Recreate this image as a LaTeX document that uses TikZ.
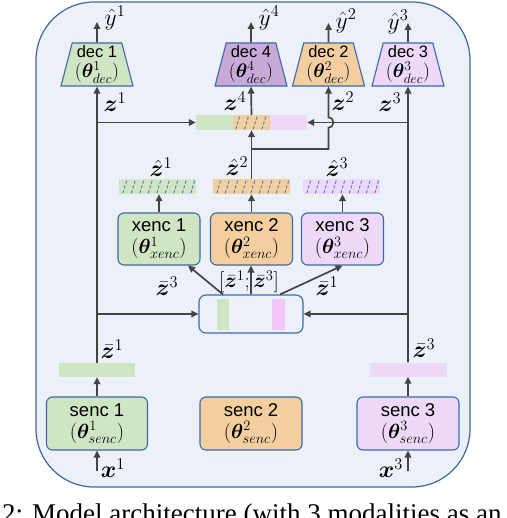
\RequirePackage{fix-cm}
\documentclass[tikz,border=0pt]{standalone}
\usepackage{fontspec}
\usepackage{amsmath}
\usepackage{bm}
\usetikzlibrary{shapes.geometric,arrows.meta}
\newfontfamily\lsans{Liberation Sans}
\newfontfamily\lserif{Liberation Serif}
\definecolor{bgfill}{HTML}{EBF0F9}
\definecolor{bgdraw}{HTML}{41659E}
\definecolor{cgreen}{HTML}{CFE5C3}
\definecolor{corange}{HTML}{F3CFA0}
\definecolor{cpurple}{HTML}{C9A9D8}
\definecolor{clilac}{HTML}{EDD9F7}
\definecolor{cpink}{HTML}{F2C6F6}
\definecolor{boxdraw}{HTML}{3F68A8}
\definecolor{conncol}{HTML}{444444}
\definecolor{hatchc}{HTML}{4A78C8}
\newcommand\mname[1]{{\lsans\fontsize{18.5}{20}\selectfont #1}}
\newcommand\dname[1]{{\lsans\fontsize{16.5}{18}\selectfont #1}}
\begin{document}
\begin{tikzpicture}[x=1pt,y=-1pt,
  modbox/.style={rectangle, rounded corners=6pt, draw=boxdraw, line width=1.1pt,
    minimum width=82pt, minimum height=52pt, align=center, inner sep=0pt,
    font=\fontsize{20.5}{22}\selectfont},
  decbox/.style={trapezium, trapezium left angle=75, trapezium right angle=75,
    trapezium stretches=true, draw=boxdraw, line width=1.1pt,
    minimum width=72pt, minimum height=43pt, align=center, inner sep=0pt,
    font=\fontsize{19.5}{19.5}\selectfont},
  barbox/.style={rectangle, minimum height=15pt, inner sep=0pt, draw=none},
  conn/.style={draw=conncol, line width=1.7pt},
  arr/.style={conn, -{Triangle[length=7pt,width=6.5pt]}},
  lab/.style={inner sep=0pt, font=\fontsize{23.5}{24}\selectfont},
  hatch/.style={draw=hatchc, line width=0.9pt, dash pattern=on 3pt off 2pt}
]
\useasboundingbox (0,0) rectangle (506,518);
% frame
\draw[fill=bgfill, draw=bgdraw, line width=1.2pt, rounded corners=58pt] (36,2) rectangle (470,487);

% decoders
\node[decbox, fill=cgreen]  (dec1) at (97,64.5)  {\dname{dec 1}\\$(\bm\theta^1_{dec})$};
\node[decbox, fill=cpurple] (dec4) at (251,64.5) {\dname{dec 4}\\$(\bm\theta^4_{dec})$};
\node[decbox, fill=corange] (dec2) at (328.5,64.5) {\dname{dec 2}\\$(\bm\theta^2_{dec})$};
\node[decbox, fill=clilac]  (dec3) at (408,64.5) {\dname{dec 3}\\$(\bm\theta^3_{dec})$};

% outputs
\coordinate (o1) at (97,22);
\coordinate (o4) at (251,22);
\coordinate (o2) at (328.5,23);
\coordinate (o3) at (408,23);
\draw[arr] (dec1.north) -- (o1);
\draw[arr] (dec4.north) -- (o4);
\draw[arr] (dec2.north) -- (o2);
\draw[arr] (dec3.north) -- (o3);
\node[lab] (ly1) at (115,18) {$\hat{y}^1$};
\node[lab] (ly4) at (269,18) {$\hat{y}^4$};
\node[lab] (ly2) at (346,21) {$\hat{y}^2$};
\node[lab] (ly3) at (398,22) {$\hat{y}^3$};

% z4 bar
\node[barbox, fill=cgreen,  minimum width=37pt] (z4a) at (214.5,122.5) {};
\node[barbox, fill=corange, minimum width=37pt] (z4b) at (251.5,122.5) {};
\node[barbox, fill=clilac,  minimum width=37pt] (z4c) at (288.5,122.5) {};
\foreach \i in {0,...,3}
  \draw[hatch] ([xshift={(3+\i*8.7)*1pt}, yshift=1pt]z4b.south west) -- ++(4,-13);

% z-hat bars
\node[barbox, fill=cgreen,  minimum width=77pt] (zh1) at (157.5,186.5) {};
\node[barbox, fill=corange, minimum width=77pt] (zh2) at (251.5,186.5) {};
\node[barbox, fill=clilac,  minimum width=77pt] (zh3) at (341.5,186.5) {};
\foreach \b in {zh1,zh2,zh3}
  \foreach \i in {0,...,8}
    \draw[hatch] ([xshift={(4+\i*8.5)*1pt}, yshift=1pt]\b.south west) -- ++(4,-13);
\node[lab] (lzh1) at (161,167) {$\hat{\bm z}^1$};
\node[lab] (lzh2) at (237,166) {$\hat{\bm z}^2$};
\node[lab] (lzh3) at (337,167) {$\hat{\bm z}^3$};

% cross encoders
\node[modbox, fill=cgreen]  (xe1) at (159,239)   {\mname{xenc 1}\\$(\bm\theta^1_{xenc})$};
\node[modbox, fill=corange] (xe2) at (251.5,239) {\mname{xenc 2}\\$(\bm\theta^2_{xenc})$};
\node[modbox, fill=clilac]  (xe3) at (342.5,239) {\mname{xenc 3}\\$(\bm\theta^3_{xenc})$};
\draw[arr] (xe1.north) -- (xe1.north |- zh1.south);
\draw[arr] (xe2.north) -- (xe2.north |- zh2.south);
\draw[arr] (xe3.north) -- (xe3.north |- zh3.south);

% combined box
\node[rectangle, rounded corners=7pt, draw=boxdraw, line width=1.1pt, fill=bgfill,
  minimum width=104pt, minimum height=38pt, inner sep=0pt] (comb) at (251,314) {};
\node[barbox, fill=cgreen, minimum width=12pt, minimum height=31pt] (cg) at (223,314.5) {};
\node[barbox, fill=cpink,  minimum width=13pt, minimum height=31pt] (cp) at (278.5,314.5) {};
\draw[arr] ([xshift=-28pt]comb.north) -- ([xshift=29pt]xe1.south);
\draw[arr] (comb.north) -- (comb.north |- xe2.south);
\draw[arr] ([xshift=29pt]comb.north) -- (xe3.south);
\node[lab] (lc1) at (167,286) {$\bar{\bm z}^3$};
\node[lab, font=\fontsize{21}{22}\selectfont] (lc2) at (249,282) {$[\bar{\bm z}^1;\bar{\bm z}^3]$};
\node[lab] (lc3) at (327,286) {$\bar{\bm z}^1$};

% single encoders
\node[modbox, fill=cgreen,  minimum width=101pt, minimum height=53pt] (se1) at (97,423.5)  {\mname{senc 1}\\$(\bm\theta^1_{senc})$};
\node[modbox, fill=corange, minimum width=102pt, minimum height=53pt] (se2) at (251,423.5) {\mname{senc 2}\\$(\bm\theta^2_{senc})$};
\node[modbox, fill=clilac,  minimum width=102pt, minimum height=53pt] (se3) at (408,423.5) {\mname{senc 3}\\$(\bm\theta^3_{senc})$};

% z-bar bars
\node[barbox, fill=cgreen, minimum width=76pt, minimum height=14pt] (zb1) at (97,370) {};
\node[barbox, fill=clilac, minimum width=77pt, minimum height=14pt] (zb3) at (408,369.5) {};
\node[lab] (lzb1) at (112,349) {$\bar{\bm z}^1$};
\node[lab] (lzb3) at (424,348) {$\bar{\bm z}^3$};

% inputs
\coordinate (x1) at (97,471);
\coordinate (x3) at (408,471);
\draw[arr] (x1) -- (se1.south);
\draw[arr] (x3) -- (se3.south);
\node[lab] (lx1) at (113,468) {$\bm x^1$};
\node[lab] (lx3) at (391,468) {$\bm x^3$};
\draw[arr] (se1.north) -- (zb1.south);
\draw[arr] (se3.north) -- (zb3.south);

% main verticals
\draw[arr] (zb1.north) -- (dec1.south);
\draw[arr] (zb3.north) -- (dec3.south);
\draw[arr] (zb1.north |- comb.west) -- (comb.west);
\draw[arr] (zb3.north |- comb.east) -- (comb.east);
\draw[arr] (zb1.north |- z4a.west) -- (z4a.west);
\draw[arr] (zb3.north |- z4c.east) -- (z4c.east);

% z-hat2 to z4 and dec2
\draw[arr] (zh2.north) -- (zh2.north |- z4b.south);
\draw[arr] (z4b.north) -- (dec4.south);
\coordinate (br) at (251.5,149);
\coordinate (hop) at (dec2.south |- z4c.east);
\draw[arr] (br) -- (br -| dec2.south) -- ([yshift=-5pt]hop)
  .. controls ([xshift=6.5pt,yshift=-5pt]hop) and ([xshift=6.5pt,yshift=5pt]hop) .. ([yshift=5pt]hop)
  -- (dec2.south);

% z labels
\node[lab] (lz1) at (115,102) {$\bm z^1$};
\node[lab] (lz4) at (235,101) {$\bm z^4$};
\node[lab] (lz2) at (343,101) {$\bm z^2$};
\node[lab] (lz3) at (390,102) {$\bm z^3$};

% caption (cut by the picture edge)
\begin{scope}
\clip (0,0) rectangle (506,518);
\node[anchor=base west, inner sep=0pt, font=\lserif\fontsize{27}{29}\selectfont] (cap) at (2,522)
  {2: Model architecture (with 3 modalities as an example)};
\end{scope}
\end{tikzpicture}
\end{document}
